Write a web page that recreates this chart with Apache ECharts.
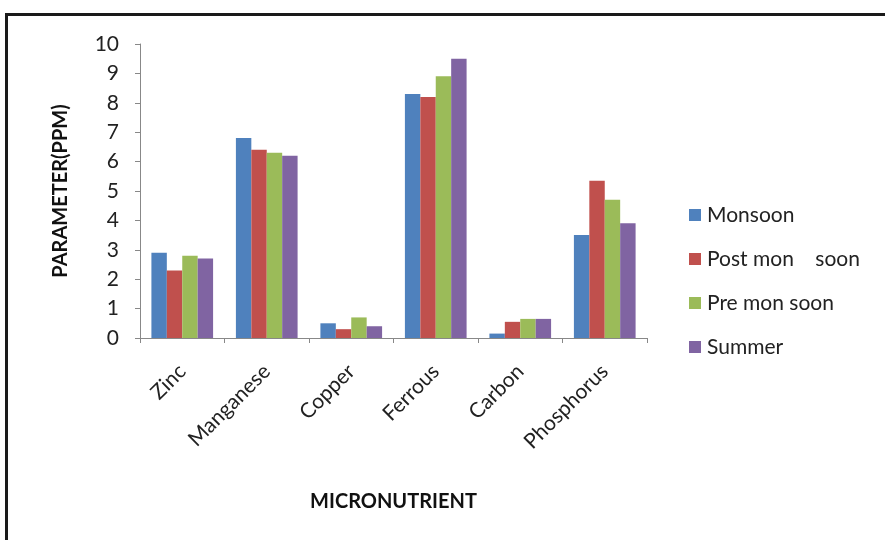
<!DOCTYPE html>
<html>
<head>
<meta charset="utf-8">
<script src="https://cdn.jsdelivr.net/npm/echarts@6/dist/echarts.min.js"></script>
<style>
  html, body { margin: 0; padding: 0; background: #fff; }
  #chart { width: 885px; height: 540px; }
</style>
</head>
<body>
<div id="chart"></div>
<script>
// Micronutrient concentrations (ppm) by season
const categories = ['Zinc', 'Manganese', 'Copper', 'Ferrous', 'Carbon', 'Phosphorus'];
const seasonNames = ['Monsoon', 'Post mon    soon', 'Pre mon soon', 'Summer'];
const monsoon     = [2.9, 6.8, 0.5, 8.3, 0.15, 3.5];
const postMonsoon = [2.3, 6.4, 0.3, 8.2, 0.55, 5.35];
const preMonsoon  = [2.8, 6.3, 0.7, 8.9, 0.65, 4.7];
const summer      = [2.7, 6.2, 0.4, 9.5, 0.65, 3.9];
const yTicks = [0, 1, 2, 3, 4, 5, 6, 7, 8, 9, 10];

const colors = ['#4F81BD', '#C0504D', '#9BBB59', '#8064A2'];
const seriesValues = [monsoon, postMonsoon, preMonsoon, summer];
const font = 'Lato, "Open Sans", sans-serif';

const chart = echarts.init(document.getElementById('chart'));
chart.setOption({
  animation: false,
  color: colors,
  textStyle: { fontFamily: font },
  graphic: [{
    type: 'rect',
    shape: { x: 6.5, y: 14.5, width: 900, height: 560 },
    style: { fill: 'none', stroke: '#1a1a1a', lineWidth: 3 },
    silent: true
  }],
  legend: {
    orient: 'vertical',
    left: 684,
    top: 199,
    itemWidth: 12,
    itemHeight: 12,
    itemGap: 22,
    icon: 'rect',
    textStyle: { fontSize: 21, lineHeight: 22, color: '#222', fontFamily: font, padding: [0, 0, 0, 1] },
    data: seasonNames
  },
  grid: { left: 140, top: 44, right: 238, bottom: 202 },
  xAxis: {
    type: 'category',
    data: categories,
    name: 'MICRONUTRIENT',
    nameLocation: 'middle',
    nameGap: 154,
    nameTextStyle: { fontSize: 20, fontWeight: 'bold', color: '#111', fontFamily: font },
    axisLine: { lineStyle: { color: '#888', width: 1 } },
    axisTick: { show: true, length: 5, lineStyle: { color: '#888' } },
    axisLabel: { rotate: 45, fontSize: 21, color: '#222', margin: 30, fontFamily: font }
  },
  yAxis: {
    type: 'value',
    min: yTicks[0],
    max: yTicks[yTicks.length - 1],
    interval: 1,
    name: 'PARAMETER(PPM)',
    nameLocation: 'middle',
    nameRotate: 90,
    nameGap: 69,
    nameTextStyle: { fontSize: 20, fontWeight: 'bold', color: '#111', fontFamily: font },
    splitLine: { show: false },
    axisLine: { show: true, lineStyle: { color: '#888', width: 1 } },
    axisTick: { show: true, length: 5, lineStyle: { color: '#888' } },
    axisLabel: { fontSize: 21, color: '#222', margin: 21, fontFamily: font }
  },
  series: seriesValues.map((vals, i) => ({
    name: seasonNames[i],
    type: 'bar',
    data: vals,
    barGap: '0%',
    barCategoryGap: '27%'
  }))
});
</script>
</body>
</html>
